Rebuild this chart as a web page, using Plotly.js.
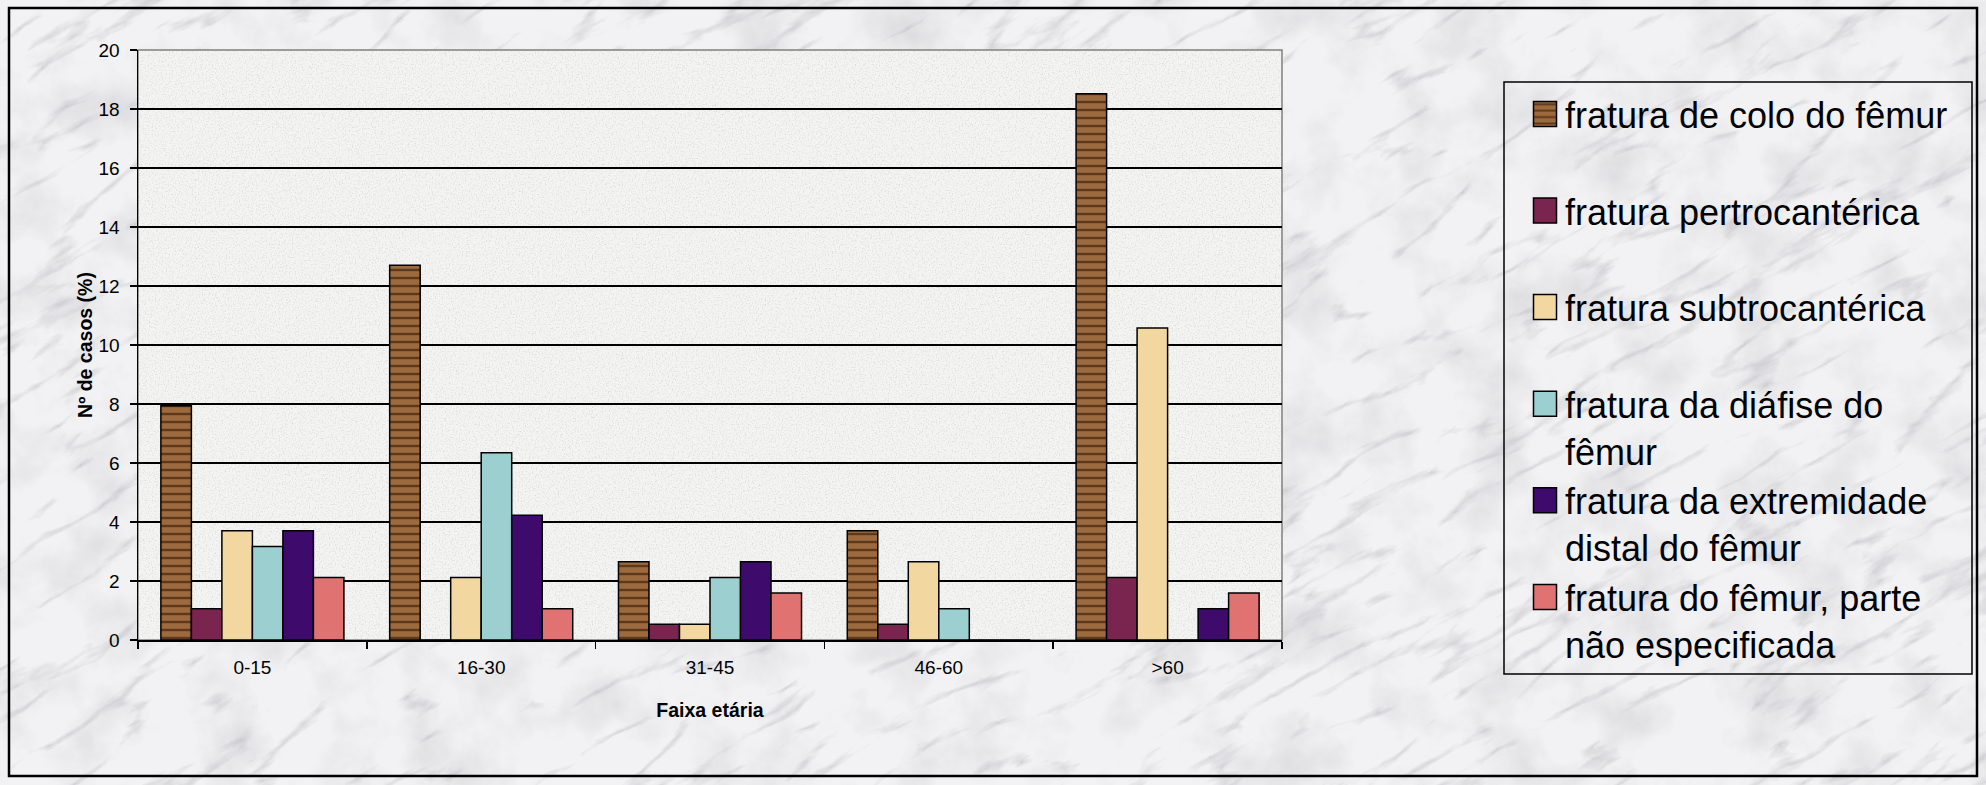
<!DOCTYPE html>
<html>
<head>
<meta charset="utf-8">
<script src="https://cdn.plot.ly/plotly-3.0.1.min.js"></script>
<style>
  html, body { margin: 0; padding: 0; width: 1986px; height: 785px; overflow: hidden; }
  body { background-color: #eeeef0; }
  #chart { width: 1986px; height: 785px; }
</style>
</head>
<body>
<div id="chart"></div>
<script>
// ---- data ----
const categories = ['0-15', '16-30', '31-45', '46-60', '>60'];
const seriesNames = [
  'fratura de colo do fêmur',
  'fratura pertrocantérica',
  'fratura subtrocantérica',
  'fratura da diáfise do<br>fêmur',
  'fratura da extremidade<br>distal do fêmur',
  'fratura do fêmur, parte<br>não especificada'
];
const colo      = [7.94, 12.70, 2.65, 3.70, 18.52];
const pertro    = [1.06, 0, 0.53, 0.53, 2.12];
const subtro    = [3.70, 2.12, 0.53, 2.65, 10.58];
const diafise   = [3.17, 6.35, 2.12, 1.06, 0];
const distal    = [3.70, 4.23, 2.65, 0, 1.06];
const naoEsp    = [2.12, 1.06, 1.59, 0, 1.59];
const yTicks    = [0, 2, 4, 6, 8, 10, 12, 14, 16, 18, 20];

// ---- textures (procedural SVG filters, purely decorative) ----
const marbleSVG = "<svg xmlns='http://www.w3.org/2000/svg' width='1986' height='785'>" +
  "<filter id='v' x='0' y='0' width='100%' height='100%'>" +
  "<feTurbulence type='turbulence' baseFrequency='0.006 0.022' numOctaves='5' seed='11'/>" +
  "<feColorMatrix type='matrix' values='0 0 0 0 0.42  0 0 0 0 0.42  0 0 0 0 0.45  -3.0 0 0 0 0.62'/>" +
  "</filter>" +
  "<filter id='c' x='0' y='0' width='100%' height='100%'>" +
  "<feTurbulence type='fractalNoise' baseFrequency='0.015' numOctaves='5' seed='5'/>" +
  "<feColorMatrix type='matrix' values='0 0 0 0 0.58  0 0 0 0 0.58  0 0 0 0 0.61  -1.8 0 0 0 1.0'/>" +
  "</filter>" +
  "<rect width='1986' height='785' fill='#f2f2f4'/>" +
  "<rect width='1986' height='785' filter='url(#c)' opacity='0.6'/>" +
  "<g transform='rotate(-30 993 392)'><rect x='-700' y='-700' width='3400' height='2200' filter='url(#v)' opacity='0.75'/></g>" +
  "</svg>";
document.body.style.backgroundImage = 'url("data:image/svg+xml,' + encodeURIComponent(marbleSVG) + '")';

const paperSVG = "<svg xmlns='http://www.w3.org/2000/svg' width='1144' height='590'>" +
  "<filter id='n' x='0' y='0' width='100%' height='100%'>" +
  "<feTurbulence type='fractalNoise' baseFrequency='0.7' numOctaves='2' seed='3'/>" +
  "<feColorMatrix type='matrix' values='0 0 0 0 0.55  0 0 0 0 0.55  0 0 0 0 0.55  -3 0 0 0 1.55'/>" +
  "</filter>" +
  "<rect width='1144' height='590' fill='#f4f4f3'/>" +
  "<rect width='1144' height='590' filter='url(#n)' opacity='0.45'/>" +
  "</svg>";
const paperURI = 'data:image/svg+xml,' + encodeURIComponent(paperSVG);

// ---- traces ----
const FONT = 'Liberation Sans, Arial, sans-serif';
const outline = { color: '#000000', width: 1.5 };
const nb = '<br>\u00a0';
const traces = [
  { name: seriesNames[0] + nb, y: colo,
    marker: { color: '#5a3519', line: outline,
      pattern: { shape: '-', bgcolor: '#9c6a3c', fgcolor: '#5e381b', size: 8, solidity: 0.3, fillmode: 'replace' } } },
  { name: seriesNames[1] + nb, y: pertro, marker: { color: '#7a2550', line: outline } },
  { name: seriesNames[2] + nb, y: subtro, marker: { color: '#f2d8a0', line: outline } },
  { name: seriesNames[3], y: diafise, marker: { color: '#9ccfcf', line: outline } },
  { name: seriesNames[4], y: distal, marker: { color: '#3e0b6c', line: outline } },
  { name: seriesNames[5], y: naoEsp, marker: { color: '#e07272', line: outline } }
].map(t => Object.assign({ type: 'bar', x: categories, hoverinfo: 'skip' }, t));

// ---- geometry helpers (paper coords from pixel layout) ----
const L = 138, R = 1282, T = 50, B = 640;
const px = x => (x - L) / (R - L);
const py = y => (B - y) / (B - T);

const layout = {
  width: 1986, height: 785,
  margin: { l: L, r: 1986 - R, t: T, b: 785 - B, pad: 0 },
  paper_bgcolor: 'rgba(0,0,0,0)',
  plot_bgcolor: '#f4f4f3',
  font: { family: FONT, color: '#000000', size: 19 },
  barmode: 'group', bargap: 0.2, bargroupgap: 0,
  showlegend: true,
  legend: {
    x: px(1525), xanchor: 'left', y: py(84), yanchor: 'top',
    bgcolor: 'rgba(0,0,0,0)', borderwidth: 0,
    font: { family: FONT, size: 36, color: '#000000' },
    valign: 'top', tracegroupgap: 0, itemclick: false
  },
  xaxis: {
    type: 'category', categoryorder: 'array', categoryarray: categories,
    tickson: 'boundaries', ticks: 'outside', ticklen: 7, tickwidth: 1.5, tickcolor: '#000000',
    showline: true, linecolor: '#000000', linewidth: 1.5,
    showgrid: false, zeroline: false,
    tickfont: { family: FONT, size: 19 },
    ticklabelstandoff: 10,
    title: { text: 'Faixa etária', font: { family: FONT, size: 19.5, weight: 'bold' }, standoff: 26 }
  },
  yaxis: {
    range: [0, 20], tickvals: yTicks, ticktext: yTicks.map(String),
    ticks: 'outside', ticklen: 7, tickwidth: 1.5, tickcolor: '#000000',
    showline: true, linecolor: '#000000', linewidth: 1.5,
    showgrid: true, gridcolor: '#000000', gridwidth: 1.3, zeroline: false,
    tickfont: { family: FONT, size: 19 },
    ticklabelstandoff: 6,
    title: { text: 'Nº de casos (%)', font: { family: FONT, size: 19.5, weight: 'bold' }, standoff: 0 }
  },
  images: [{
    source: paperURI, xref: 'paper', yref: 'paper', x: 0, y: 1, sizex: 1, sizey: 1,
    xanchor: 'left', yanchor: 'top', sizing: 'stretch', layer: 'below'
  }],
  shapes: [
    // plot-area frame (grey top/right edges)
    { type: 'rect', xref: 'paper', yref: 'paper', x0: 0, x1: 1, y0: 0, y1: 1,
      line: { color: '#808080', width: 1.5 }, fillcolor: 'rgba(0,0,0,0)', layer: 'below' },
    // legend box
    { type: 'rect', xref: 'paper', yref: 'paper', x0: px(1504), x1: px(1972), y0: py(674), y1: py(82),
      line: { color: '#000000', width: 1.5 }, fillcolor: 'rgba(0,0,0,0)' },
    // outer chart border
    { type: 'rect', xref: 'paper', yref: 'paper', x0: px(9), x1: px(1977), y0: py(776), y1: py(8),
      line: { color: '#000000', width: 2.5 }, fillcolor: 'rgba(0,0,0,0)' }
  ]
};

Plotly.newPlot('chart', traces, layout, { staticPlot: true, displayModeBar: false }).then(gd => {
  gd.querySelectorAll('.legend .legendpoints path').forEach(p => {
    p.setAttribute('d', 'M11.5,12.5H-11.5V-12.5H11.5Z');
  });
});
</script>
</body>
</html>
